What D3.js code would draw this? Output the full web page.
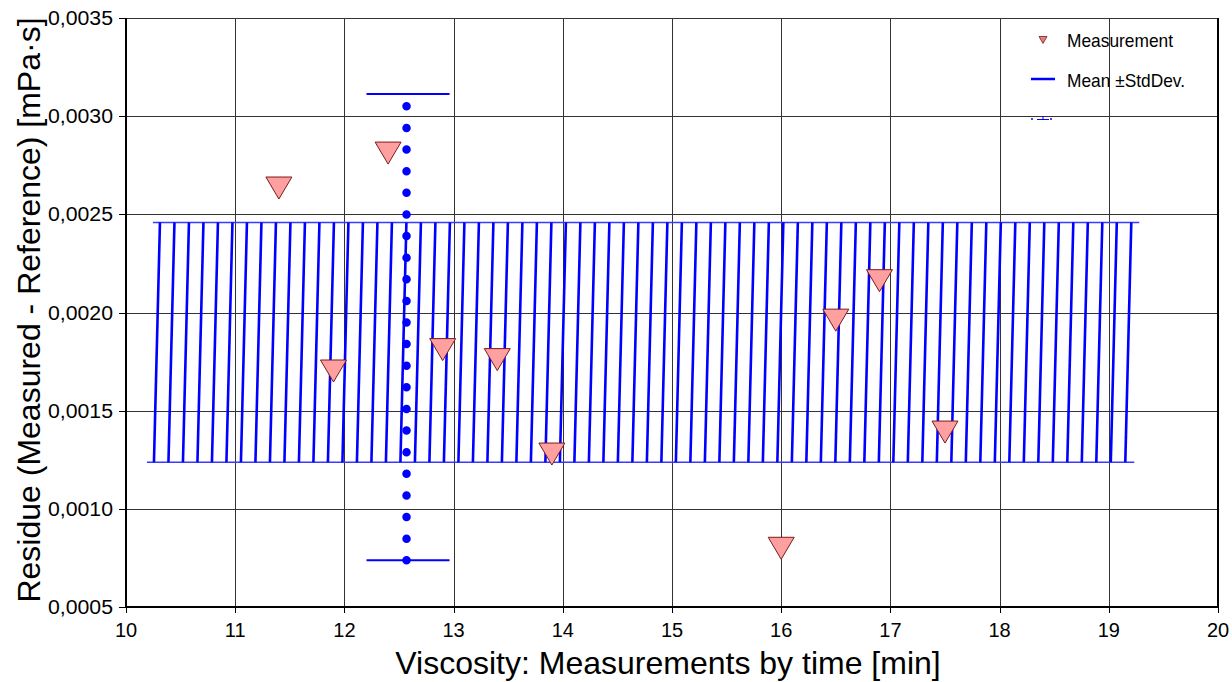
<!DOCTYPE html>
<html>
<head>
<meta charset="utf-8">
<script src="https://cdn.jsdelivr.net/npm/d3@7"></script>
<style>
  body { margin: 0; background: #fff; }
  svg text { font-family: "Liberation Sans", Arial, sans-serif; }
</style>
</head>
<body>
<script>
// measurements (time [min], residue [mPa·s])
var measTime = [11.4, 11.9, 12.4, 12.9, 13.4, 13.9, 16.0, 16.5, 16.9, 17.5];
var measResidue = [0.002634, 0.001702, 0.002812, 0.001811, 0.001760, 0.001279, 0.000799, 0.001961, 0.002162, 0.001391];

// mean +- std dev band
var bandTime = [10.256, 19.206];
var bandLimits = [0.001237, 0.002459];

// vertical error bar
var errTime = 12.569;
var errLimits = [0.000738, 0.003113];
var errDotsTop = 0.00305;

var xTicks = [10, 11, 12, 13, 14, 15, 16, 17, 18, 19, 20];
var yTicks = [0.0005, 0.0010, 0.0015, 0.0020, 0.0025, 0.0030, 0.0035];

var width = 1232, height = 682;
var svg = d3.select("body").append("svg")
  .attr("width", width)
  .attr("height", height);

var x = d3.scaleLinear().domain([10, 20]).range([126, 1218]);
var y = d3.scaleLinear().domain([0.0005, 0.0035]).range([607, 18]);

var fmt = function(d) { return d3.format(".4f")(d).replace(".", ","); };

// grid
svg.append("g").selectAll("line").data(xTicks).enter().append("line")
  .attr("x1", function(d) { return Math.round(x(d)) + 0.5; })
  .attr("x2", function(d) { return Math.round(x(d)) + 0.5; })
  .attr("y1", y(0.0035)).attr("y2", y(0.0005))
  .style("stroke", "#333").style("stroke-width", 1);
svg.append("g").selectAll("line").data(yTicks).enter().append("line")
  .attr("y1", function(d) { return Math.round(y(d)) + 0.5; })
  .attr("y2", function(d) { return Math.round(y(d)) + 0.5; })
  .attr("x1", x(10)).attr("x2", x(20))
  .style("stroke", "#333").style("stroke-width", 1);

// band hatching
var yTop = y(bandLimits[1]), yBot = y(bandLimits[0]);
var bx0 = x(bandTime[0]), bx1 = x(bandTime[1]);
var slant = 6;
var nLines = 68;
var step = (bx1 - slant - bx0) / (nLines - 1);
var hatch = d3.range(nLines).map(function(i) { return bx0 + i * step; });

svg.append("line")
  .attr("x1", bx0 + slant - 7).attr("x2", bx1 + 8)
  .attr("y1", yTop).attr("y2", yTop)
  .style("stroke", "#3b3bff").style("stroke-width", 1.5);
svg.append("line")
  .attr("x1", bx0 - 7).attr("x2", bx1 - slant + 9)
  .attr("y1", yBot).attr("y2", yBot)
  .style("stroke", "#3b3bff").style("stroke-width", 1.5);

svg.append("g").selectAll("line").data(hatch).enter().append("line")
  .attr("x1", function(d) { return d; })
  .attr("y1", yBot)
  .attr("x2", function(d) { return d + slant; })
  .attr("y2", yTop)
  .style("stroke", "#0000ff")
  .style("stroke-width", 2.6);

// error bar
var ex = x(errTime);
svg.append("g").selectAll("line").data(errLimits).enter().append("line")
  .attr("x1", ex - 40).attr("x2", ex + 43)
  .attr("y1", function(d) { return y(d); })
  .attr("y2", function(d) { return y(d); })
  .style("stroke", "#0000ff").style("stroke-width", 2);

var dotLen = y(errLimits[0]) - y(errDotsTop);
svg.append("line")
  .attr("x1", ex).attr("x2", ex)
  .attr("y1", y(errLimits[0])).attr("y2", y(errDotsTop) - 0.01)
  .style("stroke", "#0000ff")
  .style("stroke-width", 8.5)
  .style("stroke-linecap", "round")
  .style("stroke-dasharray", "0," + (dotLen / 21));

// measurements
var tri = "M-13,-11 L13,-11 L0,11 Z";
svg.append("g").selectAll("path").data(measTime).enter().append("path")
  .attr("d", tri)
  .attr("transform", function(d, i) { return "translate(" + x(d) + "," + y(measResidue[i]) + ")"; })
  .style("fill", "#ffa0a0")
  .style("stroke", "#7a1a1a")
  .style("stroke-width", 1);

// frame / axes
svg.append("line").attr("x1", x(10)).attr("x2", x(10)).attr("y1", y(0.0035)).attr("y2", y(0.0005))
  .style("stroke", "#000").style("stroke-width", 2);
svg.append("line").attr("x1", x(10)).attr("x2", x(20) + 1).attr("y1", y(0.0005)).attr("y2", y(0.0005))
  .style("stroke", "#000").style("stroke-width", 2);
svg.append("line").attr("x1", x(20)).attr("x2", x(20)).attr("y1", y(0.0035)).attr("y2", y(0.0005))
  .style("stroke", "#000").style("stroke-width", 2);

// ticks
svg.append("g").selectAll("line").data(yTicks).enter().append("line")
  .attr("x1", x(10) - 7).attr("x2", x(10))
  .attr("y1", function(d) { return Math.round(y(d)) + 0.5; })
  .attr("y2", function(d) { return Math.round(y(d)) + 0.5; })
  .style("stroke", "#000");
svg.append("g").selectAll("line").data(xTicks).enter().append("line")
  .attr("x1", function(d) { return Math.round(x(d)) + 0.5; })
  .attr("x2", function(d) { return Math.round(x(d)) + 0.5; })
  .attr("y1", y(0.0005)).attr("y2", y(0.0005) + 6)
  .style("stroke", "#000");

svg.append("g").selectAll("text").data(yTicks).enter().append("text")
  .attr("x", x(10) - 13)
  .attr("y", function(d) { return y(d) + 7; })
  .attr("text-anchor", "end")
  .attr("textLength", 65)
  .attr("lengthAdjust", "spacingAndGlyphs")
  .style("font-size", "20px")
  .text(fmt);
svg.append("g").selectAll("text").data(xTicks).enter().append("text")
  .attr("x", function(d) { return x(d); })
  .attr("y", y(0.0005) + 30)
  .attr("text-anchor", "middle")
  .style("font-size", "20px")
  .text(function(d) { return d; });

// axis titles
svg.append("text")
  .attr("x", 668).attr("y", 674)
  .attr("text-anchor", "middle")
  .style("font-size", "32px")
  .text("Viscosity: Measurements by time [min]");
svg.append("text")
  .attr("transform", "translate(40,310) rotate(-90)")
  .attr("text-anchor", "middle")
  .style("font-size", "32px")
  .text("Residue (Measured - Reference) [mPa·s]");

// legend
var lg = svg.append("g");
lg.append("path")
  .attr("d", "M-4,-3.5 L4,-3.5 L0,3.5 Z")
  .attr("transform", "translate(1043,40)")
  .style("fill", "#e08080").style("stroke", "#7a1a1a").style("stroke-width", 0.8);
lg.append("text").attr("x", 1067).attr("y", 47).style("font-size", "19px")
  .attr("textLength", 106).attr("lengthAdjust", "spacingAndGlyphs").text("Measurement");
lg.append("line").attr("x1", 1031).attr("x2", 1055).attr("y1", 79).attr("y2", 79)
  .style("stroke", "#0000ff").style("stroke-width", 2.5);
lg.append("text").attr("x", 1067).attr("y", 87).style("font-size", "19px")
  .attr("textLength", 118).attr("lengthAdjust", "spacingAndGlyphs").text("Mean ±StdDev.");
lg.append("circle").attr("cx", 1032).attr("cy", 119).attr("r", 1).style("fill", "#0000ff");
lg.append("circle").attr("cx", 1051).attr("cy", 119).attr("r", 1).style("fill", "#0000ff");
lg.append("line").attr("x1", 1037).attr("x2", 1049).attr("y1", 119.5).attr("y2", 119.5)
  .style("stroke", "#0000ff").style("stroke-width", 1);
lg.append("line").attr("x1", 1043).attr("x2", 1043).attr("y1", 116).attr("y2", 119)
  .style("stroke", "#0000ff").style("stroke-width", 1);
</script>
</body>
</html>
